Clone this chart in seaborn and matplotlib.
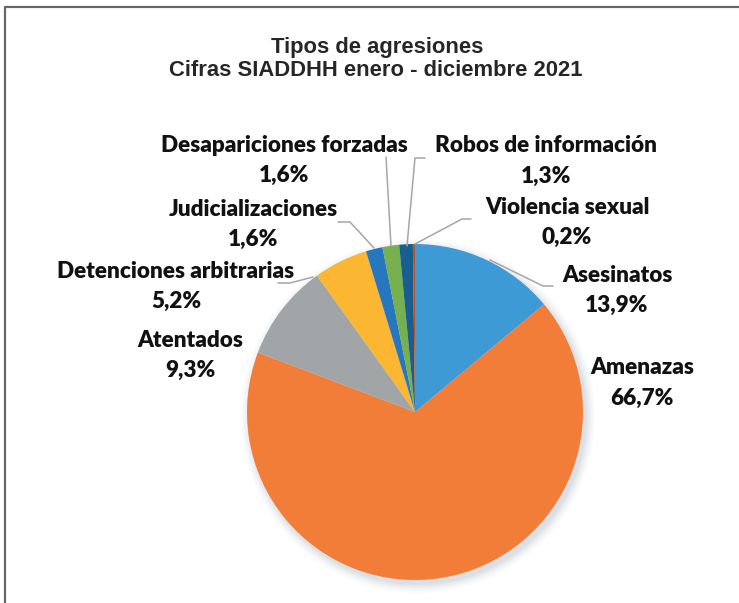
import matplotlib
matplotlib.use("Agg")
import matplotlib.pyplot as plt
import seaborn as sns
from matplotlib.patches import Circle

categories = ["Asesinatos", "Amenazas", "Atentados", "Detenciones arbitrarias",
              "Judicializaciones", "Desapariciones forzadas",
              "Robos de información", "Violencia sexual"]
values = [13.9, 66.7, 9.3, 5.2, 1.6, 1.6, 1.3, 0.2]
pct_labels = ["13,9%", "66,7%", "9,3%", "5,2%", "1,6%", "1,6%", "1,3%", "0,2%"]
title_lines = ["Tipos de agresiones", "Cifras SIADDHH enero - diciembre 2021"]

sns.set_theme(style="white")
palette = sns.color_palette(["#3D9AD5", "#F17D38", "#A2A5A8", "#FBB731",
                             "#2676C0", "#77B04F", "#185F8F", "#C4511C"])

W, H = 739, 603
fig = plt.figure(figsize=(W / 100, H / 100), dpi=100)
ax = fig.add_axes([0, 0, 1, 1])

def Y(y):
    return H - y

cx, cy, R = 415, Y(412), 168

# soft shadow
for k, a in [(9, 0.03), (7, 0.04), (5, 0.05), (3, 0.07), (1, 0.09)]:
    ax.add_patch(Circle((cx + 3, cy - 4), R + k, color="#7d8f9e", alpha=a, lw=0, zorder=1))

ax.pie(values, colors=palette, startangle=90, counterclock=False,
       center=(cx, cy), radius=R, frame=True,
       wedgeprops=dict(linewidth=0, zorder=2))
ax.set_xlim(0, W)
ax.set_ylim(0, H)
ax.axis("off")
ax.set_aspect("auto")

# frame
ax.plot([4.5, 4.5, W + 5], [Y(H + 5), Y(6.5), Y(6.5)], color="#666666", lw=1.6,
        solid_capstyle="butt", zorder=5)

# title
tfont = dict(family="Liberation Sans", weight="bold", size=15.8, color="#262626")
ax.text(377, Y(53), title_lines[0], ha="center", va="baseline", **tfont)
ax.text(376, Y(76), title_lines[1], ha="center", va="baseline", **tfont)

# labels: (x center, baseline line1, baseline line2)
label_pos = {
    "Asesinatos": (617, 282, 312),
    "Amenazas": (642, 374, 405),
    "Atentados": (190, 347, 377),
    "Detenciones arbitrarias": (176, 278, 308),
    "Judicializaciones": (253, 216, 246),
    "Desapariciones forzadas": (284, 152, 182),
    "Robos de información": (546, 152, 183),
    "Violencia sexual": (567, 214, 244),
}
lfont = dict(family="Lato", weight="heavy", size=16.2, color="#111111")
for cat, pct in zip(categories, pct_labels):
    x, y1, y2 = label_pos[cat]
    ax.text(x, Y(y1), cat, ha="center", va="baseline", **lfont)
    ax.text(x, Y(y2), pct, ha="center", va="baseline", **lfont)

# leader lines
leaders = {
    "Asesinatos": [(490, 260), (543, 286), (553, 286)],
    "Detenciones arbitrarias": [(313, 277), (290, 283), (278, 283)],
    "Judicializaciones": [(374, 248), (350, 222), (338, 222)],
    "Desapariciones forzadas": [(391, 246), (386, 157)],
    "Robos de información": [(407, 246), (415, 158), (425, 158)],
    "Violencia sexual": [(415, 244), (462, 219), (471, 219)],
}
for cat, pts in leaders.items():
    xs = [p[0] for p in pts]
    ys = [Y(p[1]) for p in pts]
    ax.plot(xs, ys, color="#A6A6A6", lw=1.1, zorder=3)

fig.savefig("out.png", dpi=100, facecolor="white")
